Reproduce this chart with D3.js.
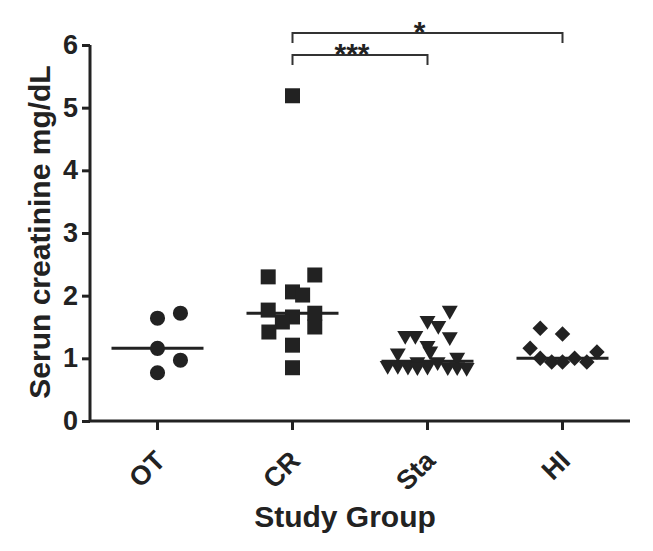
<!DOCTYPE html>
<html><head><meta charset="utf-8">
<script src="https://cdn.jsdelivr.net/npm/d3@7"></script>
<style>
html,body{margin:0;padding:0;background:#fff;}
text{font-family:"Liberation Sans",Arial,sans-serif;font-weight:bold;fill:#222;}
</style></head>
<body><svg id="c" width="653" height="551"></svg>
<script>
// ---- data ----
const categories = ["OT", "CR", "Sta", "HI"];
const yTicks = [0, 1, 2, 3, 4, 5, 6];
// values (mg/dL) and horizontal spread (fraction of half column width)
const otValues  = [1.64, 1.72, 1.16, 0.97, 0.77];
const otSpread  = [0, 0.34, 0, 0.34, 0];
const crValues  = [5.19, 2.30, 2.33, 2.06, 2.01, 1.77, 1.66, 1.58, 1.72, 1.50, 1.42, 1.21, 0.85];
const crSpread  = [0, -0.36, 0.33, 0, 0.15, -0.36, 0, -0.15, 0.33, 0.33, -0.35, 0, 0];
const staValues = [1.74, 1.58, 1.50, 1.34, 1.34, 1.32, 1.18, 1.09, 1.06, 0.99, 0.92, 0.92, 0.86, 0.86, 0.85, 0.85, 0.84, 0.84, 0.83, 0.84];
const staSpread = [0.33, 0, 0.16, -0.33, -0.18, 0.33, 0, 0.04, -0.44, 0.44, -0.15, 0.15, -0.59, -0.44, -0.29, 0, 0.30, 0.44, 0.58, -0.15];
const hiValues  = [1.48, 1.39, 1.16, 1.00, 0.94, 0.94, 1.00, 0.94, 1.10];
const hiSpread  = [-0.33, 0, -0.48, -0.33, -0.16, 0, 0.18, 0.36, 0.51];
const symbols   = ["circle", "square", "triangleDown", "diamond"];
const comparisons = [
  {from: "CR", to: "Sta", label: "***", level: 5.84},
  {from: "CR", to: "HI",  label: "*",   level: 6.19}
];
const yTitle = "Serun creatinine mg/dL";
const xTitle = "Study Group";

// ---- chart ----
const svg = d3.select("#c");
const ink = "#222";
const x = d3.scaleBand().domain(categories).range([90, 630]);
const y = d3.scaleLinear().domain([0, 6]).range([421, 45]);
const spread = d3.scaleLinear().domain([-1, 1]).range([-x.bandwidth() / 2, x.bandwidth() / 2]);
const cx = c => x(c) + x.bandwidth() / 2;

const groups = [
  {cat: "OT", vals: otValues, sp: otSpread, sym: symbols[0]},
  {cat: "CR", vals: crValues, sp: crSpread, sym: symbols[1]},
  {cat: "Sta", vals: staValues, sp: staSpread, sym: symbols[2]},
  {cat: "HI", vals: hiValues, sp: hiSpread, sym: symbols[3]}
];

// axes
const yAxis = svg.append("g").attr("transform", "translate(90,0)")
  .call(d3.axisLeft(y).tickValues(yTicks).tickSize(8).tickPadding(4).tickFormat(d3.format("d")));
yAxis.select(".domain").attr("d", `M0,${y(6)}V${y(0)}`);
const xAxis = svg.append("g").attr("transform", "translate(0,421)")
  .call(d3.axisBottom(x).tickSize(9).tickFormat(""));
xAxis.select(".domain").attr("d", "M90,0H630");
svg.selectAll(".domain").attr("stroke", ink).attr("stroke-width", 3);
svg.selectAll(".tick line").attr("stroke", ink).attr("stroke-width", 3);
yAxis.selectAll(".tick text").attr("font-size", 27).attr("font-family", null).attr("fill", ink);

// x tick labels rotated
svg.append("g").selectAll("text").data(categories).join("text")
  .attr("transform", d => `translate(${cx(d) - 4},${449}) rotate(-45)`)
  .attr("text-anchor", "end").attr("dy", "0.7em")
  .attr("font-size", 27).text(d => d);

// titles
svg.append("text").attr("transform", "translate(50,232) rotate(-90)")
  .attr("text-anchor", "middle").attr("font-size", 30).text(yTitle);
svg.append("text").attr("x", 345).attr("y", 527)
  .attr("text-anchor", "middle").attr("font-size", 30).text(xTitle);

// points
const symMap = {
  circle: {t: d3.symbolCircle, size: 180},
  square: {t: d3.symbolSquare, size: 225},
  triangleDown: {t: d3.symbolTriangle, size: 110},
  diamond: {t: d3.symbolSquare, size: 120}
};
groups.forEach(g => {
  const s = symMap[g.sym];
  const gen = d3.symbol().type(s.t).size(s.size);
  const rot = g.sym === "triangleDown" ? 180 : g.sym === "diamond" ? 45 : 0;
  const dyOff = g.sym === "triangleDown" ? -1.5 : 0;
  // median line
  const med = d3.median(g.vals);
  svg.append("line")
    .attr("x1", cx(g.cat) - 46).attr("x2", cx(g.cat) + 46)
    .attr("y1", y(med)).attr("y2", y(med))
    .attr("stroke", ink).attr("stroke-width", 3);
  svg.append("g").selectAll("path").data(g.vals).join("path")
    .attr("d", gen)
    .attr("transform", (d, i) => `translate(${cx(g.cat) + spread(g.sp[i])},${y(d) + dyOff}) rotate(${rot})`)
    .attr("fill", ink);
});

// significance brackets
comparisons.forEach(c => {
  const x1 = cx(c.from), x2 = cx(c.to), yy = y(c.level);
  svg.append("path").attr("d", `M${x1},${yy + 10}V${yy}H${x2}V${yy + 10}`)
    .attr("fill", "none").attr("stroke", "#333").attr("stroke-width", 2);
  svg.append("text").attr("x", (x1 + x2) / 2 - 8).attr("y", yy + 9)
    .attr("text-anchor", "middle").attr("font-size", 30).text(c.label);
});
</script></body></html>
